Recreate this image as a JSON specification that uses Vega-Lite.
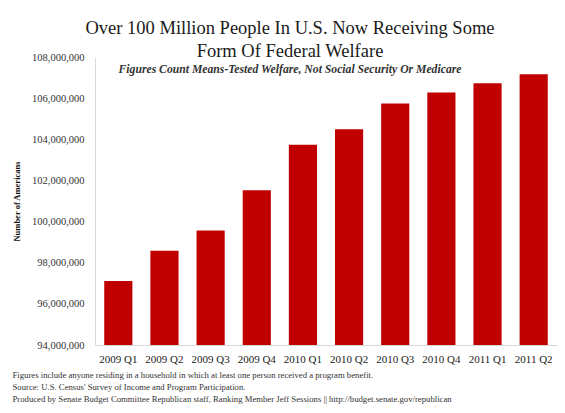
{
  "$schema": "https://vega.github.io/schema/vega-lite/v6.json",
  "width": 462,
  "height": 288,
  "autosize": {"type": "none"},
  "padding": {"left": 95, "top": 57, "right": 8, "bottom": 68},
  "background": "white",
  "config": {
    "font": "Liberation Serif",
    "view": {"stroke": null},
    "title": {
      "font": "Liberation Serif",
      "subtitleFont": "Liberation Serif",
      "fontSize": 18.5,
      "fontWeight": "normal",
      "color": "#1a1a1a",
      "lineHeight": 23,
      "subtitleFontSize": 11.7,
      "subtitleFontStyle": "italic",
      "subtitleFontWeight": "bold",
      "subtitleColor": "#333333",
      "subtitlePadding": 4
    }
  },
  "title": {
    "text": ["Over 100 Million People In U.S. Now Receiving Some", "Form Of Federal Welfare"],
    "subtitle": "Figures Count Means-Tested Welfare, Not Social Security Or Medicare",
    "anchor": "middle",
    "frame": "group",
    "dx": -36,
    "offset": -24
  },
  "data": {
    "values": [
      {"quarter": "2009 Q1", "people": 97110000},
      {"quarter": "2009 Q2", "people": 98580000},
      {"quarter": "2009 Q3", "people": 99560000},
      {"quarter": "2009 Q4", "people": 101520000},
      {"quarter": "2010 Q1", "people": 103730000},
      {"quarter": "2010 Q2", "people": 104490000},
      {"quarter": "2010 Q3", "people": 105740000},
      {"quarter": "2010 Q4", "people": 106280000},
      {"quarter": "2011 Q1", "people": 106720000},
      {"quarter": "2011 Q2", "people": 107160000}
    ]
  },
  "mark": {"type": "bar", "color": "#C00000", "clip": true},
  "encoding": {
    "x": {
      "field": "quarter",
      "type": "ordinal",
      "sort": null,
      "scale": {"paddingInner": 0.39, "paddingOuter": 0.2},
      "axis": {
        "labelAngle": 0,
        "labelFontSize": 11,
        "labelColor": "#222222",
        "labelPadding": 8,
        "ticks": false,
        "domainColor": "#d9d9d9",
        "domainWidth": 1,
        "title": [
          "Figures include anyone residing in a household in which at least one person received a program benefit.",
          "Source: U.S. Census' Survey of Income and Program Participation.",
          "Produced by Senate Budget Committee Republican staff, Ranking Member Jeff Sessions || http://budget.senate.gov/republican"
        ],
        "titleFontSize": 8.7,
        "titleFontWeight": "normal",
        "titleColor": "#333333",
        "titleAlign": "left",
        "titleBaseline": "top",
        "titleLineHeight": 12,
        "titleX": -83,
        "titleY": 25
      }
    },
    "y": {
      "field": "people",
      "type": "quantitative",
      "scale": {"domain": [94000000, 108000000], "zero": false, "nice": false},
      "axis": {
        "values": [94000000, 96000000, 98000000, 100000000, 102000000, 104000000, 106000000, 108000000],
        "format": ",d",
        "grid": false,
        "ticks": false,
        "labelFontSize": 10.5,
        "labelColor": "#333333",
        "labelPadding": 11,
        "domainColor": "#d9d9d9",
        "domainWidth": 1,
        "title": "Number of Americans",
        "titleFontSize": 8.5,
        "titleFontWeight": "bold",
        "titleColor": "#111111",
        "titleAngle": -90,
        "titleX": -79,
        "titleY": 144,
        "titleAlign": "center",
        "titleBaseline": "middle"
      }
    }
  }
}
